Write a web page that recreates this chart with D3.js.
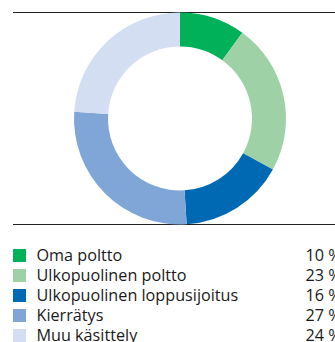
<!DOCTYPE html>
<html>
<head>
<meta charset="utf-8">
<script src="https://cdn.jsdelivr.net/npm/d3@7"></script>
<style>
  html, body { margin: 0; padding: 0; background: #fff; overflow: hidden; }
  svg { display: block; }
</style>
</head>
<body>
<svg id="chart" width="335" height="342"></svg>
<script>
// Waste handling shares, percent
const categories = ["Oma poltto", "Ulkopuolinen poltto", "Ulkopuolinen loppusijoitus", "Kierrätys", "Muu käsittely"];
const values = [10, 23, 16, 27, 24];
const colors = ["#00b15a", "#9ed2a6", "#0069b4", "#80a6d8", "#d4def2"];

const svg = d3.select("#chart");
const W = 335;
const cx = 180, cy = 118.5;
const outerR = 106, innerR = 72;
const font = "'Open Sans', 'Noto Sans', sans-serif";

// Rules above and below the donut
svg.append("line").attr("x1", 13).attr("x2", W).attr("y1", 12.5).attr("y2", 12.5)
  .attr("stroke", "#222").attr("stroke-width", 1);
svg.append("line").attr("x1", 13).attr("x2", W).attr("y1", 224.5).attr("y2", 224.5)
  .attr("stroke", "#222").attr("stroke-width", 1);

const pie = d3.pie().sort(null).value(d => d)(values);
const arc = d3.arc().innerRadius(innerR).outerRadius(outerR);

svg.append("g").attr("transform", `translate(${cx},${cy})`)
  .selectAll("path").data(pie).join("path")
  .attr("d", arc)
  .attr("fill", (d, i) => colors[i]);

// Legend
const rowY = d3.scaleLinear().domain([0, 1]).range([249, 269]);
const legend = svg.append("g");
const rows = legend.selectAll("g").data(categories).join("g")
  .attr("transform", (d, i) => `translate(0,${rowY(i)})`);
rows.append("rect").attr("x", 13).attr("y", 0).attr("width", 13).attr("height", 13)
  .attr("fill", (d, i) => colors[i]);
rows.append("text").attr("x", 36.5).attr("y", 12.3)
  .attr("font-family", font).attr("font-size", 16.2)
  .attr("fill", "#1a1a1a")
  .text(d => d);
rows.append("text").attr("x", 305.5).attr("y", 12.3)
  .attr("font-family", font).attr("font-size", 16.2)
  .attr("fill", "#1a1a1a")
  .text((d, i) => values[i] + " %");
</script>
</body>
</html>
